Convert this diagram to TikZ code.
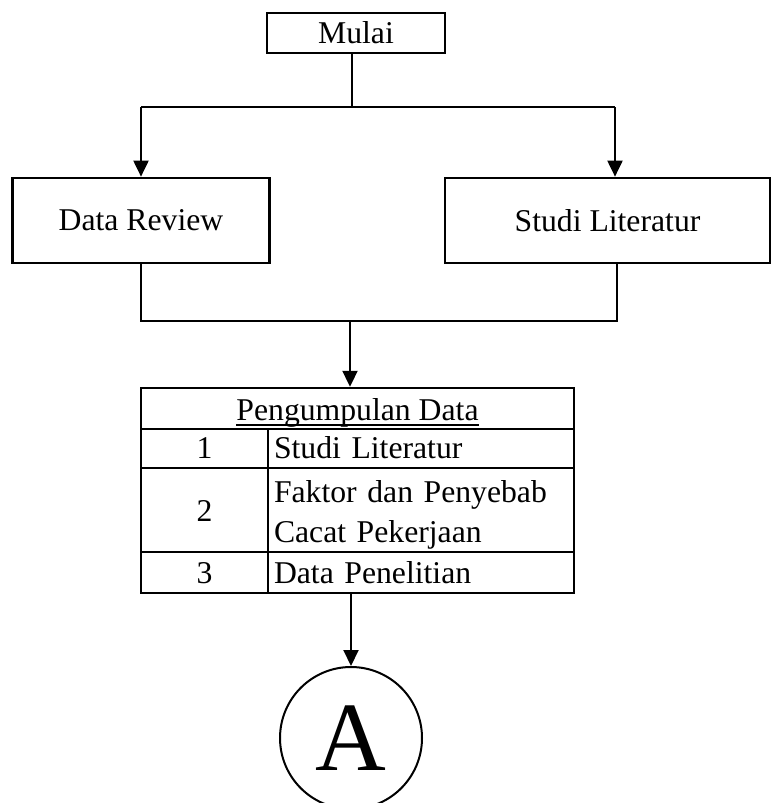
\documentclass[tikz,border=0pt]{standalone}
\usepackage{fontspec}
\setmainfont{Liberation Serif}
\usetikzlibrary{arrows.meta, positioning}

% garis bawah yang tebal
\newcommand{\garisbawah}[1]{\setbox0\hbox{#1}\rlap{\vrule height -3.5pt depth 5.5pt width \wd0}\box0}

\begin{document}
\begin{tikzpicture}[x=1pt, y=-1pt,
	box/.style={draw, line width=2.7pt, inner sep=0pt, font=\fontsize{31.7}{40}\selectfont},
	cell/.style={draw, line width=2.4pt, inner sep=0pt, text depth=6pt, font=\fontsize{31.7}{40}\selectfont},
	txt/.style={cell, inner xsep=6pt, text width=294pt, align=left},
	link/.style={line width=2pt},
	>={Triangle[length=16pt, width=15pt]}]

	\useasboundingbox (0,0) rectangle (773,803);

	\node[box, minimum width=178pt, minimum height=40pt] (mulai) at (356,33) {Mulai};
	\node[box, minimum width=257pt, minimum height=85pt] (review) at (141,220.5) {Data Review};
	\node[box, minimum width=325pt, minimum height=85pt] (studi) at (607.5,220.5) {Studi Literatur};

	% tabel pengumpulan data
	\node[cell, minimum width=433pt, minimum height=41pt, text height=29pt] (hdr) at (357.5,408.5) {\garisbawah{Pengumpulan Data}};
	\node[cell, minimum width=127pt, minimum height=39pt, text height=25pt] (no1) at (204.5,448.5) {1};
	\node[txt, minimum height=39pt, text height=25pt] (isi1) at (421,448.5) {Studi Literatur};
	\node[cell, minimum width=127pt, minimum height=84pt, text height=28pt] (no2) at (204.5,510) {2};
	\node[txt, text height=31pt, text depth=47pt, minimum height=84pt] (isi2) at (421,510) {Faktor dan Penyebab\\Cacat Pekerjaan};
	\node[cell, minimum width=127pt, minimum height=41pt, text height=27pt] (no3) at (204.5,572.5) {3};
	\node[txt, minimum height=41pt, text height=27pt] (isi3) at (421,572.5) {Data Penelitian};

	\node[draw, circle, line width=2pt, minimum size=142pt, inner sep=0pt, font=\fontsize{98}{98}\selectfont] (A) at (351,738) {A};

	\coordinate (top) at (352,107);
	\coordinate (topL) at (141,107);
	\coordinate (topR) at (615,107);
	\coordinate (botL) at (141,321);
	\coordinate (botR) at (617,321);
	\coordinate (mid) at (350,321);

	\draw[link] (mulai.south -| top) -- (top);
	\draw[link] (topL) -- (topR);
	\draw[link, ->] (topL) -- (review.north);
	\draw[link, ->] (topR) -- (studi.north -| topR);
	\draw[link] (review.south) -- (botL) -- (botR) -- (studi.south -| botR);
	\draw[link, ->] (mid) -- (hdr.north -| mid);
	\draw[link, ->] (isi3.south -| A) -- (A.north);

\end{tikzpicture}
\end{document}
